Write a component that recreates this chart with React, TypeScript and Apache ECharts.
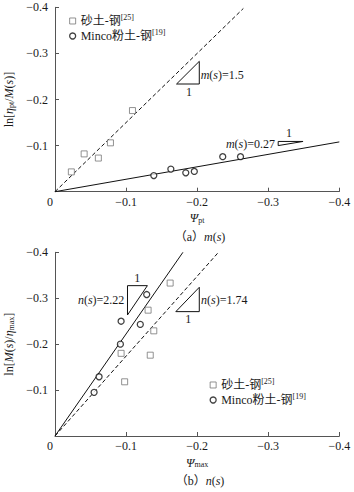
import React, { useEffect, useRef } from 'react';
import * as echarts from 'echarts';

// ---------- data ----------
const legendNames = ['砂土-钢', 'Minco粉土-钢'];
const legendRefs = ['[25]', '[19]'];
const tickLabels = ['0', '−0.1', '−0.2', '−0.3', '−0.4'];

// panel (a): ln[eta_pt/M(s)] vs Psi_pt
const sandA = [[-0.023, -0.043], [-0.041, -0.082], [-0.061, -0.073], [-0.078, -0.106], [-0.109, -0.176]];
const mincoA = [[-0.139, -0.035], [-0.163, -0.049], [-0.184, -0.041], [-0.196, -0.044], [-0.236, -0.076], [-0.261, -0.076]];
const sandFitA = [[0, 0], [-0.265, -0.3975]];
const mincoFitA = [[0, 0], [-0.4, -0.108]];
const slopeTriA1 = [[-0.171, -0.2336], [-0.203, -0.2336], [-0.203, -0.2828], [-0.171, -0.2336]];
const slopeTriA2 = [[-0.314, -0.109], [-0.349, -0.109], [-0.314, -0.1], [-0.314, -0.109]];

// panel (b): ln[M(s)/eta_max] vs Psi_max
const sandB = [[-0.162, -0.333], [-0.131, -0.274], [-0.139, -0.229], [-0.093, -0.18], [-0.134, -0.176], [-0.098, -0.118]];
const mincoB = [[-0.129, -0.308], [-0.093, -0.25], [-0.12, -0.243], [-0.092, -0.2], [-0.062, -0.129], [-0.055, -0.095]];
const sandFitB = [[0, 0], [-0.23, -0.4]];
const mincoFitB = [[0, 0], [-0.18, -0.4]];
const slopeTriB1 = [[-0.102, -0.3274], [-0.13, -0.3274], [-0.102, -0.2635], [-0.102, -0.3274]];
const slopeTriB2 = [[-0.17, -0.2708], [-0.203, -0.2708], [-0.203, -0.3238], [-0.17, -0.2708]];

// ---------- styling ----------
const SERIF = '"Liberation Serif", "Times New Roman", "Noto Sans CJK SC", serif';
const AXIS_COLOR = '#555';
const TEXT_COLOR = '#1a1a1a';

const baseRich = {
  n: { fontFamily: SERIF, fontSize: 12, color: TEXT_COLOR },
  i: { fontFamily: SERIF, fontSize: 12, color: TEXT_COLOR, fontStyle: 'italic' },
  sub: { fontFamily: SERIF, fontSize: 8, color: TEXT_COLOR, padding: [5, 0, 0, 0] },
  sup: { fontFamily: SERIF, fontSize: 8, color: TEXT_COLOR, padding: [0, 0, 6, 0] },
  z: { fontFamily: SERIF, fontSize: 12, color: TEXT_COLOR, padding: [0, 10, 0, 0] },
};

const tickFmt = (v: number) => {
  const idx = Math.round(Math.abs(v) * 10);
  return tickLabels[idx] ?? '';
};

function xAxisCfg(gi: number, name: string) {
  return {
    type: 'value', gridIndex: gi, min: -0.4, max: 0, interval: 0.1, inverse: true,
    axisLine: { show: true, onZero: false, lineStyle: { color: AXIS_COLOR, width: 1 } },
    axisTick: { show: true, inside: true, length: 4, lineStyle: { color: AXIS_COLOR } },
    splitLine: { show: false },
    axisLabel: {
      margin: 4, fontSize: 12, fontFamily: SERIF, color: TEXT_COLOR,
      formatter: (v: number) => (Math.abs(v) < 1e-9 ? '{z|' + tickLabels[0] + '}' : tickFmt(v)),
      rich: baseRich,
    },
    name, nameLocation: 'middle', nameGap: 20,
    nameTextStyle: { fontFamily: SERIF, fontSize: 12, color: TEXT_COLOR, rich: baseRich },
  };
}

function yAxisCfg(gi: number, name: string) {
  return {
    type: 'value', gridIndex: gi, min: -0.4, max: 0, interval: 0.1, inverse: true,
    axisLine: { show: true, onZero: false, lineStyle: { color: AXIS_COLOR, width: 1 } },
    axisTick: { show: true, inside: true, length: 4, lineStyle: { color: AXIS_COLOR } },
    splitLine: { show: false },
    axisLabel: {
      margin: 7, fontSize: 12, fontFamily: SERIF, color: TEXT_COLOR,
      formatter: (v: number) => (Math.abs(v) < 1e-9 ? '' : tickFmt(v)),
    },
    name, nameLocation: 'middle', nameGap: 30,
    nameTextStyle: { fontFamily: SERIF, fontSize: 12, color: TEXT_COLOR, rich: baseRich },
  };
}

const sandStyle = { color: '#fff', borderColor: '#777', borderWidth: 1 };
const mincoStyle = { color: '#fff', borderColor: '#111', borderWidth: 1.3 };

function scatter(name: string, gi: number, data: number[][], symbol: string, itemStyle: any) {
  return {
    type: 'scatter', name, xAxisIndex: gi, yAxisIndex: gi, data, symbol, symbolSize: 6,
    itemStyle, z: 5, silent: true,
  };
}

function line(name: string, gi: number, data: number[][], dashed: boolean) {
  return {
    type: 'line', name, xAxisIndex: gi, yAxisIndex: gi, data, symbol: 'none', showSymbol: false,
    lineStyle: { color: '#111', width: 1, type: dashed ? [4, 2.5] : 'solid' },
    z: 3, silent: true, clip: false,
  };
}

function legendCfg(left: number, top: number) {
  return {
    data: [
      { name: legendNames[0], icon: 'rect', itemStyle: { ...sandStyle } },
      { name: legendNames[1], icon: 'circle', itemStyle: { ...mincoStyle } },
    ],
    orient: 'vertical', left, top, padding: 0, itemGap: 2,
    itemWidth: 6, itemHeight: 6, selectedMode: false,
    formatter: (name: string) => {
      const i = legendNames.indexOf(name);
      return '{n|' + name + '}{sup|' + legendRefs[i] + '}';
    },
    textStyle: { fontFamily: SERIF, fontSize: 12, color: TEXT_COLOR, rich: baseRich },
  };
}

function txt(x: number, y: number, text: string, align: string = 'left') {
  return {
    type: 'text', x, y,
    style: { text, align, verticalAlign: 'middle', rich: baseRich, fontFamily: SERIF, fontSize: 12, fill: TEXT_COLOR },
  };
}

export default function App() {
  const ref = useRef<HTMLDivElement>(null);
  useEffect(() => {
    if (!ref.current) return;
    const chart = echarts.init(ref.current, null, { renderer: 'svg' });
    chart.setOption({
      animation: false,
      backgroundColor: '#fff',
      grid: [
        { left: 55, top: 7.3, width: 284.3, height: 184.4, outerBoundsMode: 'none' },
        { left: 55, top: 252.3, width: 284.3, height: 183.7, outerBoundsMode: 'none' },
      ],
      xAxis: [
        xAxisCfg(0, '{i|Ψ}{sub|pt}'),
        xAxisCfg(1, '{i|Ψ}{sub|max}'),
      ],
      yAxis: [
        yAxisCfg(0, '{n|ln[}{i|η}{sub|pt}{n|/}{i|M}{n|(}{i|s}{n|)]}'),
        yAxisCfg(1, '{n|ln[}{i|M}{n|(}{i|s}{n|)/}{i|η}{sub|max}{n|]}'),
      ],
      legend: [legendCfg(69, 14), legendCfg(209.5, 378)],
      series: [
        line('fitSandA', 0, sandFitA, true),
        line('fitMincoA', 0, mincoFitA, false),
        line('triA1', 0, slopeTriA1, false),
        line('triA2', 0, slopeTriA2, false),
        scatter(legendNames[0], 0, sandA, 'rect', sandStyle),
        scatter(legendNames[1], 0, mincoA, 'circle', mincoStyle),
        line('fitSandB', 1, sandFitB, true),
        line('fitMincoB', 1, mincoFitB, false),
        line('triB1', 1, slopeTriB1, false),
        line('triB2', 1, slopeTriB2, false),
        scatter(legendNames[0], 1, sandB, 'rect', sandStyle),
        scatter(legendNames[1], 1, mincoB, 'circle', mincoStyle),
      ],
      graphic: [
        txt(200.7, 75, '{i|m}{n|(}{i|s}{n|)=1.5}'),
        txt(189, 91.7, '{n|1}', 'center'),
        txt(275, 144, '{i|m}{n|(}{i|s}{n|)=0.27}', 'right'),
        txt(289, 133.3, '{n|1}', 'center'),
        txt(200, 237, '{n|（a）}{i|m}{n|(}{i|s}{n|)}', 'center'),
        txt(137.3, 278.3, '{n|1}', 'center'),
        txt(124.3, 300, '{i|n}{n|(}{i|s}{n|)=2.22}', 'right'),
        txt(201, 300, '{i|n}{n|(}{i|s}{n|)=1.74}'),
        txt(188.3, 319.3, '{n|1}', 'center'),
        txt(200, 481, '{n|（b）}{i|n}{n|(}{i|s}{n|)}', 'center'),
      ],
    });
    return () => chart.dispose();
  }, []);
  return <div ref={ref} style={{ position: 'fixed', left: 0, top: 0, width: 354, height: 492 }} />;
}
